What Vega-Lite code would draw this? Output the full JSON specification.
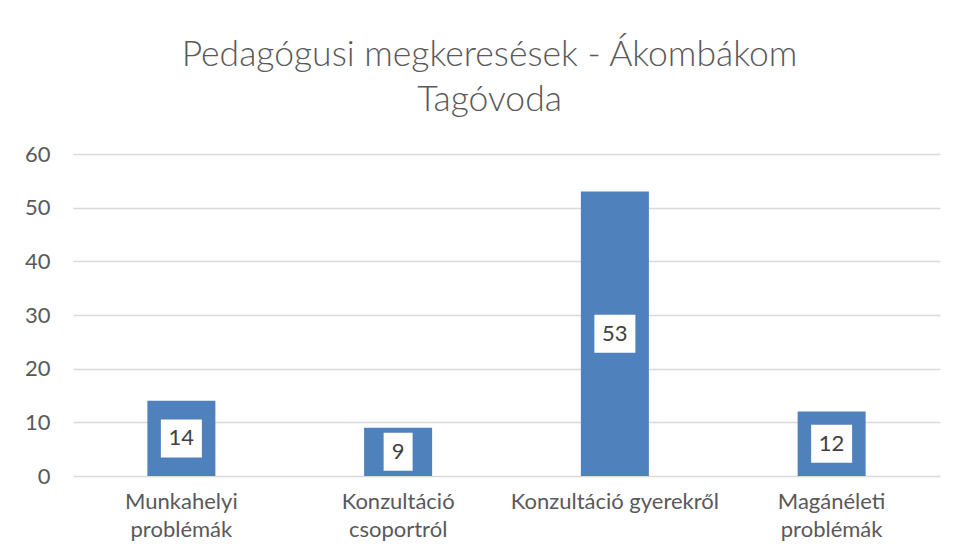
{
  "$schema": "https://vega.github.io/schema/vega-lite/v6.json",
  "width": 867,
  "height": 322,
  "autosize": "none",
  "padding": {"left": 73, "top": 154, "right": 17, "bottom": 84},
  "background": "white",
  "title": {
    "text": ["Pedagógusi megkeresések - Ákombákom", "Tagóvoda"],
    "font": "Lato",
    "fontSize": 35.5,
    "fontWeight": 300,
    "color": "#595959",
    "lineHeight": 45,
    "offset": 25,
    "dx": -17,
    "anchor": "middle"
  },
  "data": {
    "values": [
      {"category": "Munkahelyi problémák", "value": 14},
      {"category": "Konzultáció csoportról", "value": 9},
      {"category": "Konzultáció gyerekről", "value": 53},
      {"category": "Magánéleti problémák", "value": 12}
    ]
  },
  "encoding": {
    "x": {
      "field": "category",
      "type": "nominal",
      "sort": null,
      "scale": {"paddingInner": 0, "paddingOuter": 0},
      "axis": {
        "title": null,
        "labelAngle": 0,
        "domain": false,
        "ticks": false,
        "labelFont": "Lato",
        "labelFontSize": 22,
        "labelColor": "#595959",
        "labelPadding": 15,
        "labelLineHeight": 28,
        "labelLimit": 0,
        "labelExpr": "datum.label == 'Konzultáció gyerekről' ? datum.label : split(datum.label, ' ')"
      }
    }
  },
  "layer": [
    {
      "mark": {"type": "bar", "color": "#4f81bd", "size": 68},
      "encoding": {
        "y": {
          "field": "value",
          "type": "quantitative",
          "scale": {"domain": [0, 60]},
          "axis": {
            "title": null,
            "values": [0, 10, 20, 30, 40, 50, 60],
            "domain": false,
            "ticks": false,
            "labelFont": "Lato",
            "labelFontSize": 22,
            "labelColor": "#595959",
            "labelPadding": 23,
            "gridColor": "#d9d9d9",
            "gridWidth": 1.5,
            "gridOpacity": 1
          }
        }
      }
    },
    {
      "mark": {"type": "point", "filled": true, "color": "white", "opacity": 1, "size": 1681, "strokeWidth": 0},
      "encoding": {
        "y": {"field": "value", "type": "quantitative", "scale": {"domain": [0, 120]}, "axis": null},
        "shape": {
          "condition": {"test": "datum.value < 10", "value": "M-0.707,-0.927H0.707V0.927H-0.707Z"},
          "value": "M-1,-0.927H1V0.927H-1Z"
        }
      }
    },
    {
      "mark": {"type": "text", "font": "Lato", "fontSize": 22, "color": "#404040", "baseline": "middle", "align": "center"},
      "encoding": {
        "y": {"field": "value", "type": "quantitative", "scale": {"domain": [0, 120]}, "axis": null},
        "text": {"field": "value", "type": "quantitative"}
      }
    }
  ],
  "resolve": {"scale": {"y": "independent"}},
  "config": {"view": {"stroke": null}}
}
